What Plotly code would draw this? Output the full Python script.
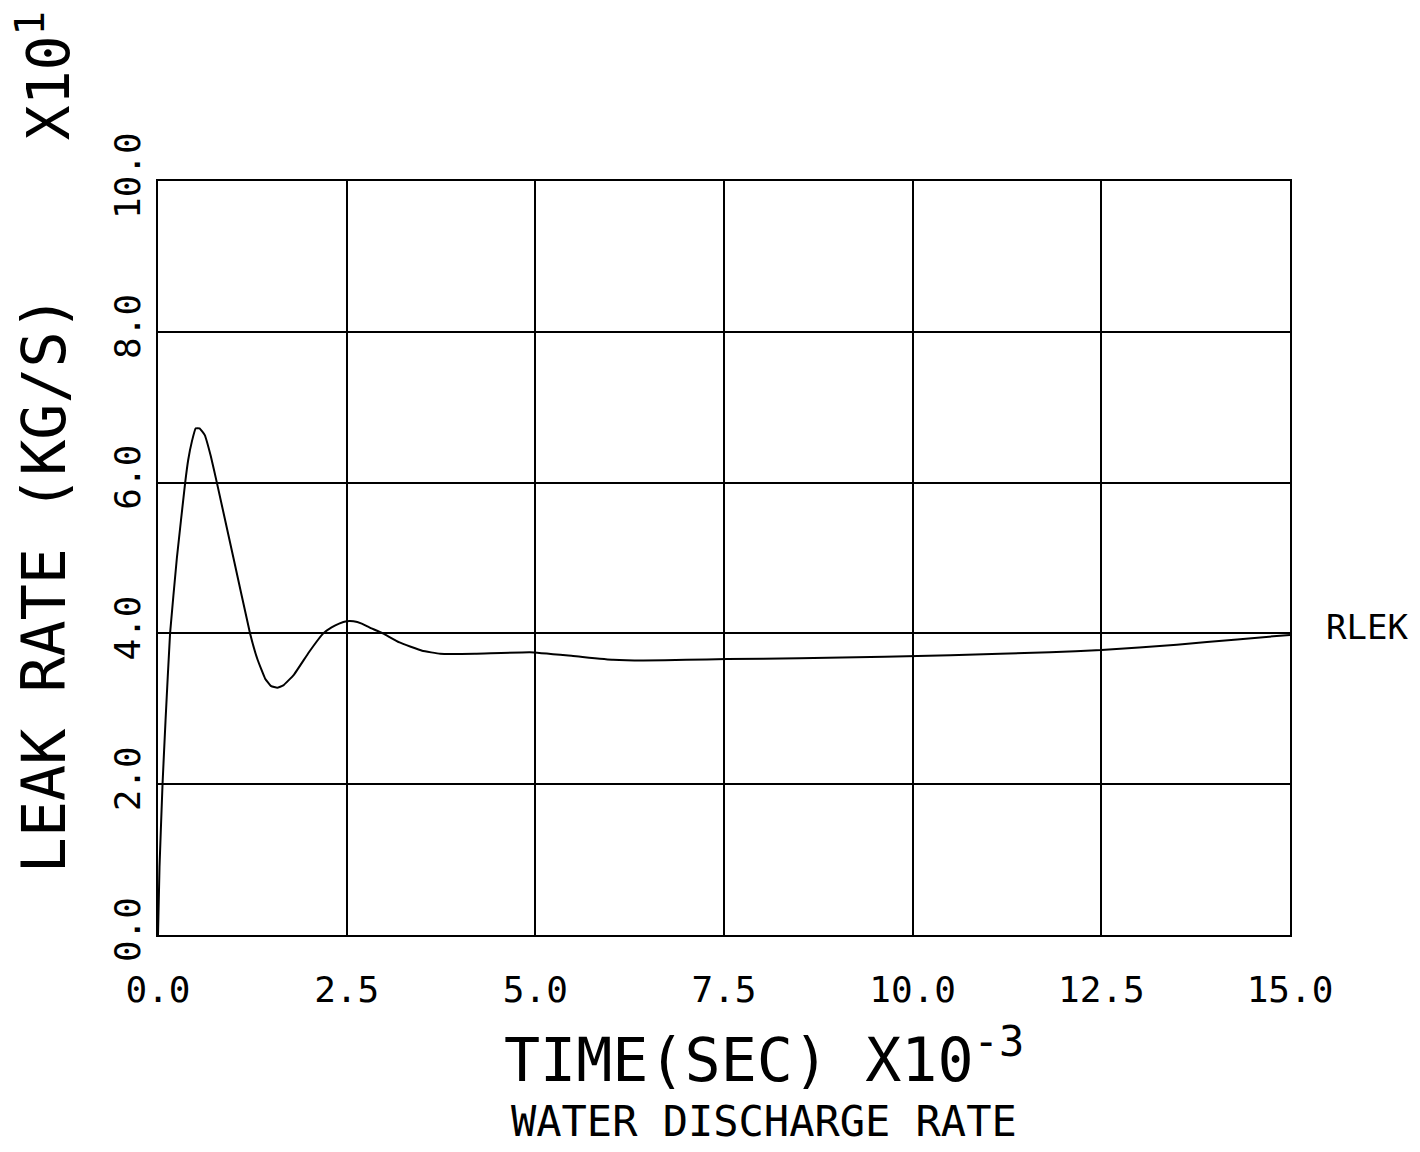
import plotly.graph_objects as go

# Data (time in units of 1e-3 s, leak rate in units of 1e1 kg/s)
time_vals = [0.0, 0.02, 0.06, 0.10, 0.16, 0.25, 0.36, 0.40, 0.45, 0.50, 0.55, 0.62, 0.70,
             0.78, 1.0, 1.22, 1.32, 1.42, 1.50, 1.58, 1.66, 1.8, 2.0, 2.19, 2.3, 2.4, 2.5,
             2.59, 2.7, 2.8, 2.98, 3.2, 3.5, 3.74, 4.2, 4.93, 5.5, 6.03, 6.43, 7.0, 7.54,
             8.5, 9.63, 10.5, 11.82, 12.5, 13.5, 14.3, 15.0]
rlek_vals = [0.0, 0.9, 2.0, 2.85, 4.0, 5.0, 6.0, 6.3, 6.55, 6.72, 6.72, 6.63, 6.35,
             6.0, 5.0, 4.0, 3.65, 3.4, 3.3, 3.28, 3.31, 3.45, 3.75, 4.0, 4.08, 4.13, 4.16,
             4.16, 4.13, 4.08, 4.0, 3.88, 3.77, 3.73, 3.73, 3.75, 3.70, 3.65, 3.64, 3.65, 3.66,
             3.67, 3.69, 3.71, 3.75, 3.78, 3.85, 3.92, 3.98]

x_ticks = [0.0, 2.5, 5.0, 7.5, 10.0, 12.5, 15.0]
x_ticklabels = ["0.0", "2.5", "5.0", "7.5", "10.0", "12.5", "15.0"]
y_ticks = [0.0, 2.0, 4.0, 6.0, 8.0, 10.0]
y_ticklabels = ["0.0", "2.0", "4.0", "6.0", "8.0", "10.0"]

FONT = "DejaVu Sans Mono"

fig = go.Figure()
fig.add_trace(go.Scatter(x=time_vals, y=rlek_vals, mode="lines",
                         line=dict(color="black", width=2, shape="spline", smoothing=0.3),
                         showlegend=False, hoverinfo="skip"))

fig.update_layout(
    width=1420, height=1152,
    margin=dict(l=158, r=130, t=181, b=217),
    paper_bgcolor="white", plot_bgcolor="white",
    xaxis=dict(range=[0, 15], tickvals=x_ticks, ticktext=x_ticklabels,
               showgrid=True, gridcolor="black", gridwidth=1.5,
               showline=True, linecolor="black", linewidth=2, mirror=True,
               zeroline=False, ticks="", ticklabelstandoff=22,
               tickfont=dict(family=FONT, size=36, color="black")),
    yaxis=dict(range=[0, 10], tickvals=y_ticks, ticktext=y_ticklabels,
               showgrid=True, gridcolor="black", gridwidth=1.5,
               showline=True, linecolor="black", linewidth=2, mirror=True,
               zeroline=False, ticks="", tickangle=-90, ticklabelstandoff=2,
               tickfont=dict(family=FONT, size=36, color="black")),
)

fig.add_annotation(text="LEAK RATE (KG/S)", xref="paper", yref="paper",
                   x=-0.1, y=0.465, xanchor="center", yanchor="middle",
                   textangle=-90, showarrow=False,
                   font=dict(family=FONT, size=60, color="black"))
fig.add_annotation(text="X10<sup>1</sup>", xref="paper", yref="paper",
                   x=-0.1, y=1.14, xanchor="center", yanchor="middle",
                   textangle=-90, showarrow=False,
                   font=dict(family=FONT, size=58, color="black"))
fig.add_annotation(text="TIME(SEC) X10<sup>-3</sup>", xref="paper", yref="paper",
                   x=0.535, y=-0.16, xanchor="center", yanchor="middle",
                   showarrow=False,
                   font=dict(family=FONT, size=60, color="black"))
fig.add_annotation(text="WATER DISCHARGE RATE", xref="paper", yref="paper",
                   x=0.535, y=-0.282, xanchor="center", yanchor="bottom",
                   showarrow=False,
                   font=dict(family=FONT, size=42, color="black"))
fig.add_annotation(text="RLEK", xref="paper", x=1.068, y=rlek_vals[-1] + 0.1,
                   yref="y", xanchor="center", yanchor="middle", showarrow=False,
                   font=dict(family=FONT, size=34, color="black"))

fig.write_html("out.html")
